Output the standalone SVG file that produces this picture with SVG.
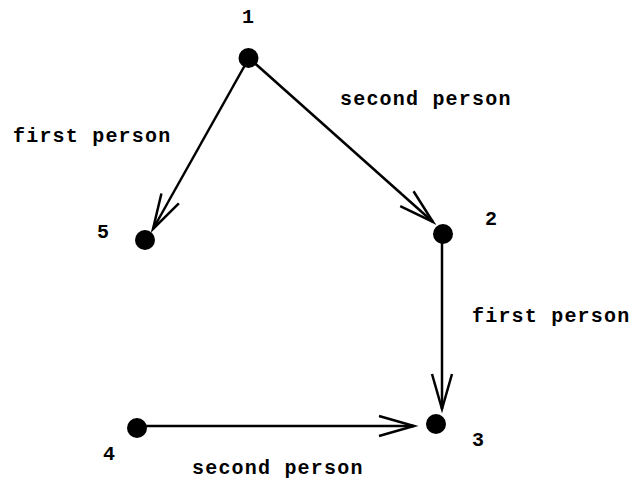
<svg xmlns="http://www.w3.org/2000/svg" width="631" height="483" viewBox="0 0 631 483">
<style>
.node{fill:#000}
.edge{stroke:#000;stroke-width:2.5;fill:none}
.lbl{font-family:"Liberation Mono","Courier New",monospace;font-weight:bold;font-size:20px;fill:#000;letter-spacing:1.2px}
</style>
<defs>
<marker id="arr" markerUnits="userSpaceOnUse" markerWidth="50" markerHeight="30" viewBox="-40 -15 50 30" refX="0" refY="0" orient="auto">
<path d="M-35,-10 L0,0 L-35,10" fill="none" stroke="#000" stroke-width="2.5"/>
</marker>
</defs>
<rect width="631" height="483" fill="#fff"/>
<g id="connectors">
<line class="edge" x1="249" y1="58" x2="153" y2="229" marker-end="url(#arr)"/>
<line class="edge" x1="249" y1="58" x2="433" y2="222" marker-end="url(#arr)"/>
<line class="edge" x1="442" y1="234" x2="442" y2="409" marker-end="url(#arr)"/>
<line class="edge" x1="137" y1="426" x2="414" y2="426" marker-end="url(#arr)"/>
<text class="lbl" x="340" y="105">second person</text>
<text class="lbl" x="13" y="142">first person</text>
<text class="lbl" x="472" y="322">first person</text>
<text class="lbl" x="192" y="474">second person</text>
</g>
<g id="node1"><circle class="node" cx="248.5" cy="58" r="10"/><text class="lbl" x="242" y="23">1</text></g>
<g id="node2"><circle class="node" cx="443" cy="234" r="10"/><text class="lbl" x="485" y="225">2</text></g>
<g id="node3"><circle class="node" cx="436" cy="424" r="10"/><text class="lbl" x="472" y="446">3</text></g>
<g id="node4"><circle class="node" cx="137" cy="428" r="10"/><text class="lbl" x="103" y="460">4</text></g>
<g id="node5"><circle class="node" cx="145" cy="240" r="10"/><text class="lbl" x="97" y="238">5</text></g>
</svg>
